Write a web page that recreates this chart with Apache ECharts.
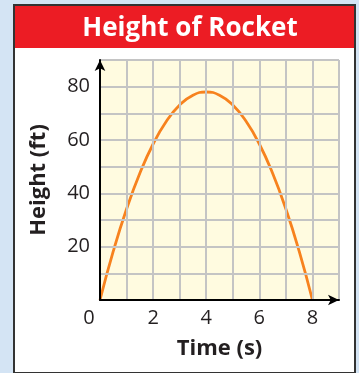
<!DOCTYPE html>
<html>
<head>
<meta charset="utf-8">
<script src="https://cdn.jsdelivr.net/npm/echarts@6/dist/echarts.min.js"></script>
<style>
  html, body { margin: 0; padding: 0; background: #d4e4f4; }
  #chart { width: 359px; height: 373px; }
</style>
</head>
<body>
<div id="chart"></div>
<script>
// Rocket flight: time (s) and height (ft)
const times   = [0, 0.5, 1, 1.5, 2, 2.5, 3, 3.5, 4, 4.5, 5, 5.5, 6, 6.5, 7, 7.5, 8];
const heights = [0, 18.3, 34.1, 47.5, 58.5, 67.0, 73.1, 76.8, 78, 76.8, 73.1, 67.0, 58.5, 47.5, 34.1, 18.3, 0];
const xTicks  = [0, 2, 4, 6, 8];
const yTicks  = [20, 40, 60, 80];

const FONT = '"Open Sans", "Noto Sans", sans-serif';
const INK = '#231f20';
const chart = echarts.init(document.getElementById('chart'), null, { renderer: 'canvas' });

chart.setOption({
  backgroundColor: '#d4e4f4',
  animation: false,
  graphic: [
    { type: 'rect', shape: { x: 14, y: 5, width: 341, height: 368 },
      style: { fill: '#ffffff', stroke: '#333333', lineWidth: 2 }, z: -10 },
    { type: 'rect', shape: { x: 15, y: 6, width: 339, height: 42 },
      style: { fill: '#ec1c24' }, z: -9 }
  ],
  title: {
    text: 'Height of Rocket',
    left: 185, top: 11, textAlign: 'center',
    textStyle: { color: '#ffffff', fontFamily: FONT, fontWeight: 'bold', fontSize: 26 }
  },
  grid: {
    left: 100, top: 60, right: 20, bottom: 73,
    show: true, backgroundColor: '#fffbe0', borderWidth: 0
  },
  xAxis: {
    type: 'value', min: 0, max: 9, interval: 1,
    name: 'Time (s)', nameLocation: 'middle', nameGap: 38,
    nameTextStyle: { color: INK, fontFamily: FONT, fontWeight: 'bold', fontSize: 22 },
    axisLine: { show: true, onZero: false, symbol: ['none', 'arrow'], symbolSize: [8, 11],
      lineStyle: { color: '#000000', width: 2 } },
    axisTick: { show: false },
    splitLine: { show: true, lineStyle: { color: '#c4c4c4', width: 2 } },
    axisLabel: {
      margin: 8, color: INK, fontFamily: FONT, fontSize: 20,
      formatter: v => xTicks.includes(v) ? (v === 0 ? '{o|0}' : String(v)) : '',
      rich: { o: { fontFamily: FONT, fontSize: 20, color: INK, padding: [0, 22, 8, 0] } }
    },
    z: 3
  },
  yAxis: {
    type: 'value', min: 0, max: 90, interval: 10,
    name: 'Height (ft)', nameLocation: 'middle', nameGap: 50, nameRotate: 90,
    nameTextStyle: { color: INK, fontFamily: FONT, fontWeight: 'bold', fontSize: 22 },
    axisLine: { show: true, onZero: false, symbol: ['none', 'arrow'], symbolSize: [8, 11],
      lineStyle: { color: '#000000', width: 2 } },
    axisTick: { show: false },
    splitLine: { show: true, lineStyle: { color: '#c4c4c4', width: 2 } },
    axisLabel: {
      margin: 10, color: INK, fontFamily: FONT, fontSize: 20,
      formatter: v => yTicks.includes(v) ? String(v) : ''
    },
    z: 3
  },
  series: [{
    type: 'line',
    data: times.map((t, i) => [t, heights[i]]),
    smooth: true,
    showSymbol: false,
    lineStyle: { color: '#f7821e', width: 2.8 },
    z: 2
  }]
});
</script>
</body>
</html>
